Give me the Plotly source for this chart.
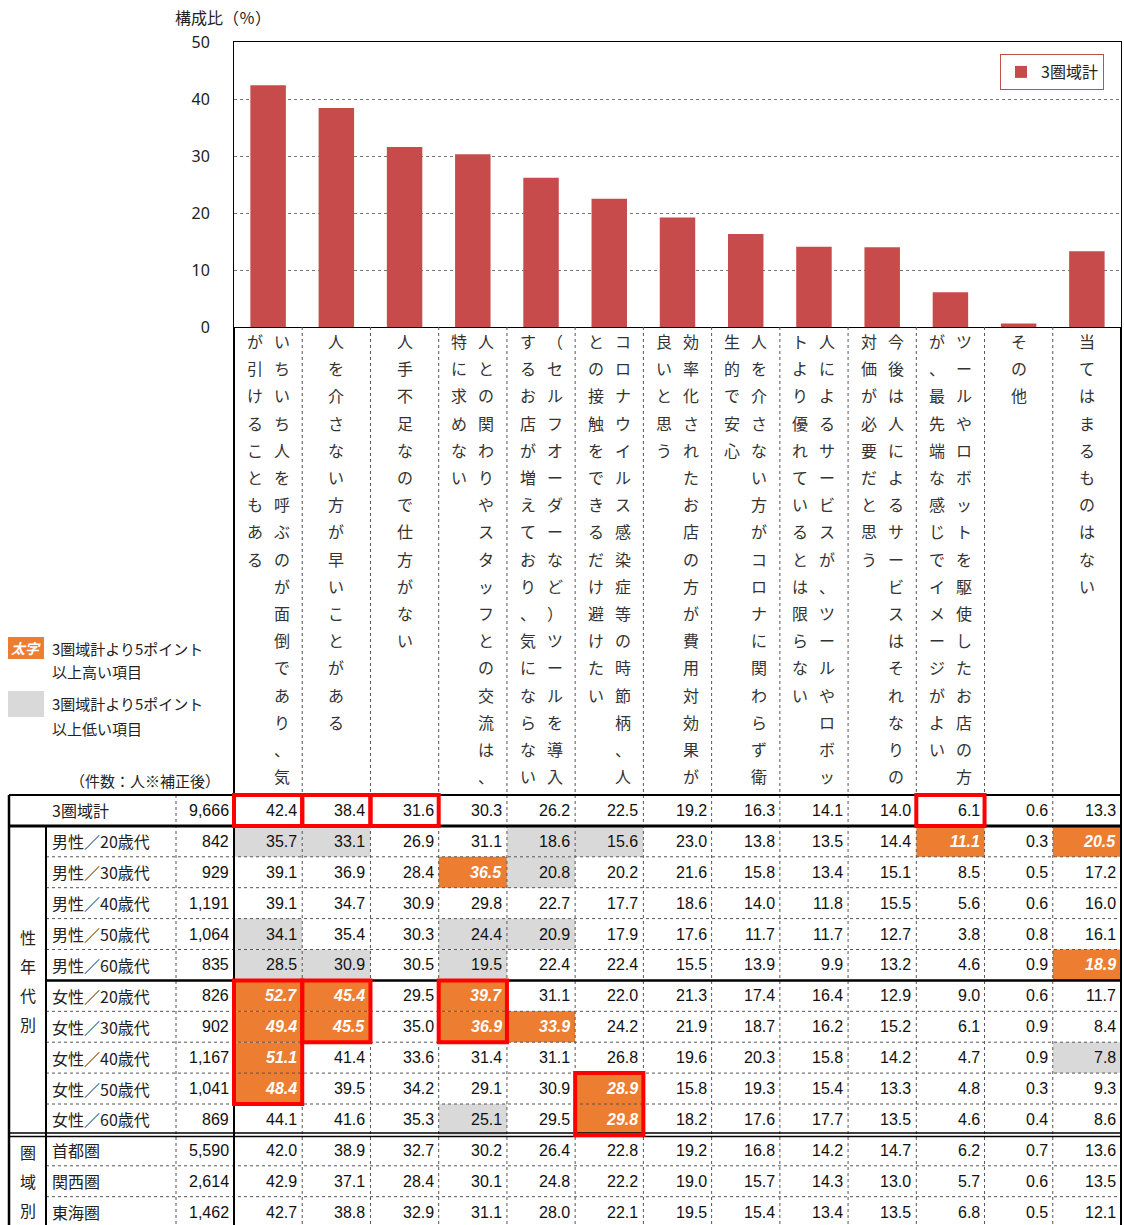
import plotly.graph_objects as go

# ---- data -------------------------------------------------------------
categories = [
    "いちいち人を呼ぶのが面倒であり、気が引けることもある",
    "人を介さない方が早いことがある",
    "人手不足なので仕方がない",
    "人との関わりやスタッフとの交流は、特に求めない",
    "（セルフオーダーなど）ツールを導入するお店が増えており、気にならない",
    "コロナウイルス感染症等の時節柄、人との接触をできるだけ避けたい",
    "効率化されたお店の方が費用対効果が良いと思う",
    "人を介さない方がコロナに関わらず衛生的で安心",
    "人によるサービスが、ツールやロボットより優れているとは限らない",
    "今後は人によるサービスはそれなりの対価が必要だと思う",
    "ツールやロボットを駆使したお店の方が、最先端な感じでイメージがよい",
    "その他",
    "当てはまるものはない",
]

row_labels = ["3圏域計",
              "男性／20歳代", "男性／30歳代", "男性／40歳代", "男性／50歳代", "男性／60歳代",
              "女性／20歳代", "女性／30歳代", "女性／40歳代", "女性／50歳代", "女性／60歳代",
              "首都圏", "関西圏", "東海圏"]
row_counts = [9666, 842, 929, 1191, 1064, 835, 826, 902, 1167, 1041, 869, 5590, 2614, 1462]

total = [42.4, 38.4, 31.6, 30.3, 26.2, 22.5, 19.2, 16.3, 14.1, 14.0, 6.1, 0.6, 13.3]
male20 = [35.7, 33.1, 26.9, 31.1, 18.6, 15.6, 23.0, 13.8, 13.5, 14.4, 11.1, 0.3, 20.5]
male30 = [39.1, 36.9, 28.4, 36.5, 20.8, 20.2, 21.6, 15.8, 13.4, 15.1, 8.5, 0.5, 17.2]
male40 = [39.1, 34.7, 30.9, 29.8, 22.7, 17.7, 18.6, 14.0, 11.8, 15.5, 5.6, 0.6, 16.0]
male50 = [34.1, 35.4, 30.3, 24.4, 20.9, 17.9, 17.6, 11.7, 11.7, 12.7, 3.8, 0.8, 16.1]
male60 = [28.5, 30.9, 30.5, 19.5, 22.4, 22.4, 15.5, 13.9, 9.9, 13.2, 4.6, 0.9, 18.9]
female20 = [52.7, 45.4, 29.5, 39.7, 31.1, 22.0, 21.3, 17.4, 16.4, 12.9, 9.0, 0.6, 11.7]
female30 = [49.4, 45.5, 35.0, 36.9, 33.9, 24.2, 21.9, 18.7, 16.2, 15.2, 6.1, 0.9, 8.4]
female40 = [51.1, 41.4, 33.6, 31.4, 31.1, 26.8, 19.6, 20.3, 15.8, 14.2, 4.7, 0.9, 7.8]
female50 = [48.4, 39.5, 34.2, 29.1, 30.9, 28.9, 15.8, 19.3, 15.4, 13.3, 4.8, 0.3, 9.3]
female60 = [44.1, 41.6, 35.3, 25.1, 29.5, 29.8, 18.2, 17.6, 17.7, 13.5, 4.6, 0.4, 8.6]
shutoken = [42.0, 38.9, 32.7, 30.2, 26.4, 22.8, 19.2, 16.8, 14.2, 14.7, 6.2, 0.7, 13.6]
kansai = [42.9, 37.1, 28.4, 30.1, 24.8, 22.2, 19.0, 15.7, 14.3, 13.0, 5.7, 0.6, 13.5]
tokai = [42.7, 38.8, 32.9, 31.1, 28.0, 22.1, 19.5, 15.4, 13.4, 13.5, 6.8, 0.5, 12.1]

table_rows = [total, male20, male30, male40, male50, male60,
              female20, female30, female40, female50, female60,
              shutoken, kansai, tokai]

# section labels: (text, first row, last row)
groups = [("性年代別", 1, 10), ("圏域別", 11, 13)]

# red emphasis frames: (column, first row, last row)
emphasis = [(0, 0, 0), (1, 0, 0), (2, 0, 0), (10, 0, 0),
            (0, 6, 9), (1, 6, 7), (3, 6, 7), (5, 9, 10)]

y_ticks = [0, 10, 20, 30, 40, 50]

# ---- styling / geometry ------------------------------------------------
W, H = 1124, 1225
JP = "Noto Sans CJK JP"
NUM = "Liberation Sans, Arial"
BAR = "#C84B4B"
ORANGE = "#ED7D31"
GRAY = "#D9D9D9"
DOT = "#555555"

X0, X1 = 234, 1121          # data columns (plot area)
PLOT_TOP, PLOT_BOT = 42, 327
CW = (X1 - X0) / len(categories)
T0, RH = 795, 30.9          # table top and row height
LEFT, GRP_R, LBL_R = 9, 46, 176
TABLE_BOT = 1225
CHAR_STEP, CHAR_TOP, PER_COL = 27.2, 341, 17


def px(x):
    return x / W


def py(y):
    return 1 - y / H


def col_left(i):
    return X0 + i * CW


def row_top(r):
    return T0 + r * RH


shapes = []
annotations = []


def hline(y, x_a, x_b, width=1, dash="solid", color="black"):
    shapes.append(dict(type="line", xref="paper", yref="paper",
                       x0=px(x_a), x1=px(x_b), y0=py(y), y1=py(y),
                       line=dict(color=color, width=width, dash=dash)))


def vline(x, y_a, y_b, width=1, dash="solid", color="black"):
    shapes.append(dict(type="line", xref="paper", yref="paper",
                       x0=px(x), x1=px(x), y0=py(y_a), y1=py(y_b),
                       line=dict(color=color, width=width, dash=dash)))


def rect(xa, ya, xb, yb, fill=None, line_color=None, width=0):
    shapes.append(dict(type="rect", xref="paper", yref="paper",
                       x0=px(xa), x1=px(xb), y0=py(ya), y1=py(yb),
                       fillcolor=fill if fill else "rgba(0,0,0,0)",
                       line=dict(color=line_color if line_color else "rgba(0,0,0,0)",
                                 width=width)))


def text(x, y, s, size=16, family=JP, color="#222222", anchor="center"):
    annotations.append(dict(xref="paper", yref="paper", x=px(x), y=py(y),
                            text=s, showarrow=False, xanchor=anchor, yanchor="middle",
                            font=dict(size=size, family=family, color=color)))


# ---- bar chart ---------------------------------------------------------
fig = go.Figure(go.Bar(x=categories, y=total, name="3圏域計",
                       marker=dict(color=BAR, line=dict(width=0)), width=0.52))

# ---- header: vertical category captions ---------------------------------
for i, cat in enumerate(categories):
    cx = col_left(i) + CW / 2
    if len(cat) <= PER_COL:
        columns = [(cx, cat)]
    else:
        # vertical writing: first column on the right, continuing on the left
        columns = [(cx + 13.5, cat[:PER_COL]), (cx - 13.5, cat[PER_COL:])]
    for x, part in columns:
        for k, ch in enumerate(part):
            text(x, CHAR_TOP + k * CHAR_STEP, ch, size=16, color="#333333")

# ---- table cell fills ----------------------------------------------------
base = table_rows[0]
cell_style = {}
for r in range(1, len(table_rows)):
    for c, v in enumerate(table_rows[r]):
        d = round(v - base[c], 1)
        if d >= 5.0:
            cell_style[(r, c)] = "high"
        elif d <= -5.0:
            cell_style[(r, c)] = "low"

for (r, c), st in cell_style.items():
    rect(col_left(c), row_top(r), col_left(c + 1), row_top(r + 1),
         fill=ORANGE if st == "high" else GRAY)

# ---- table grid ----------------------------------------------------------
n_rows = len(table_rows)
for r in range(2, n_rows):
    if r in (6, 11):
        continue
    hline(row_top(r), GRP_R, X1, width=1, dash="dot", color=DOT)
for i in range(1, len(categories)):
    vline(col_left(i), PLOT_BOT, TABLE_BOT, width=1, dash="dot", color=DOT)
vline(LBL_R, T0, TABLE_BOT, width=1, dash="dot", color=DOT)

hline(T0, LEFT, X1, width=2)
hline(row_top(1), LEFT, X1, width=3)
hline(row_top(6), GRP_R, X1, width=2.5)
hline(row_top(11) - 2, LEFT, X1, width=1.5)
hline(row_top(11) + 1.5, LEFT, X1, width=1.5)
vline(LEFT, T0, TABLE_BOT, width=2.5)
vline(GRP_R, row_top(1), TABLE_BOT, width=2)
vline(X0, PLOT_BOT, TABLE_BOT, width=2)
vline(X1, PLOT_BOT, TABLE_BOT, width=2)

# ---- table text ----------------------------------------------------------
for r, vals in enumerate(table_rows):
    yc = row_top(r) + RH / 2
    text(50, yc, row_labels[r], size=16, anchor="left")
    text(231, yc, f"{row_counts[r]:,}", size=16, family=NUM, color="#111111", anchor="right")
    for c, v in enumerate(vals):
        xr = col_left(c + 1) - 3
        if cell_style.get((r, c)) == "high":
            text(xr, yc, f"<b><i>{v:.1f}</i></b>", size=16, family=NUM,
                 color="white", anchor="right")
        else:
            text(xr, yc, f"{v:.1f}", size=16, family=NUM, color="#111111", anchor="right")

for label, r0, r1 in groups:
    ya, yb = row_top(r0), row_top(r1 + 1)
    mid = (ya + yb) / 2
    step = 29
    for k, ch in enumerate(label):
        text((LEFT + GRP_R) / 2, mid + (k - (len(label) - 1) / 2) * step, ch, size=16)

# ---- red emphasis frames -------------------------------------------------
for c, r0, r1 in emphasis:
    rect(col_left(c), row_top(r0), col_left(c + 1), row_top(r1 + 1),
         line_color="#FF0000", width=4)

# ---- left-side key and notes ----------------------------------------------
rect(8, 637, 44, 659, fill=ORANGE)
text(26, 648, "<b><i>太字</i></b>", size=14, color="white")
text(50, 648, "3圏域計より5ポイント", size=15, anchor="left")
text(50, 671, "以上高い項目", size=15, anchor="left")
rect(8, 691, 44, 717, fill=GRAY)
text(50, 703, "3圏域計より5ポイント", size=15, anchor="left")
text(50, 728, "以上低い項目", size=15, anchor="left")
text(222, 780, "（件数：人※補正後）", size=15, anchor="right")

# axis title
text(223, 17, "構成比（％）", size=16)

fig.update_layout(
    width=W, height=H,
    margin=dict(l=0, r=0, t=0, b=0, pad=0, autoexpand=False),
    paper_bgcolor="white", plot_bgcolor="white",
    shapes=shapes, annotations=annotations,
    showlegend=True,
    legend=dict(x=px(1104), xanchor="right", y=py(54), yanchor="top",
                bgcolor="white", bordercolor="#C0504D", borderwidth=1,
                font=dict(size=16, family=JP, color="#222222"), itemwidth=30),
    xaxis=dict(domain=[px(X0), px(X1)], range=[-0.5, len(categories) - 0.5],
               showticklabels=False, ticks="", showgrid=False, automargin=False,
               showline=True, linecolor="black", linewidth=1, mirror=True),
    yaxis=dict(domain=[py(PLOT_BOT), py(PLOT_TOP)], range=[0, 50],
               tickvals=y_ticks, ticks="", ticklabelstandoff=20, automargin=False,
               tickfont=dict(size=16, family="Noto Sans", color="#222222"),
               showgrid=True, gridcolor="#777777", griddash="dot", gridwidth=1,
               zeroline=False,
               showline=True, linecolor="black", linewidth=1, mirror=True),
    bargap=0.48,
)

fig.write_html("out.html")
